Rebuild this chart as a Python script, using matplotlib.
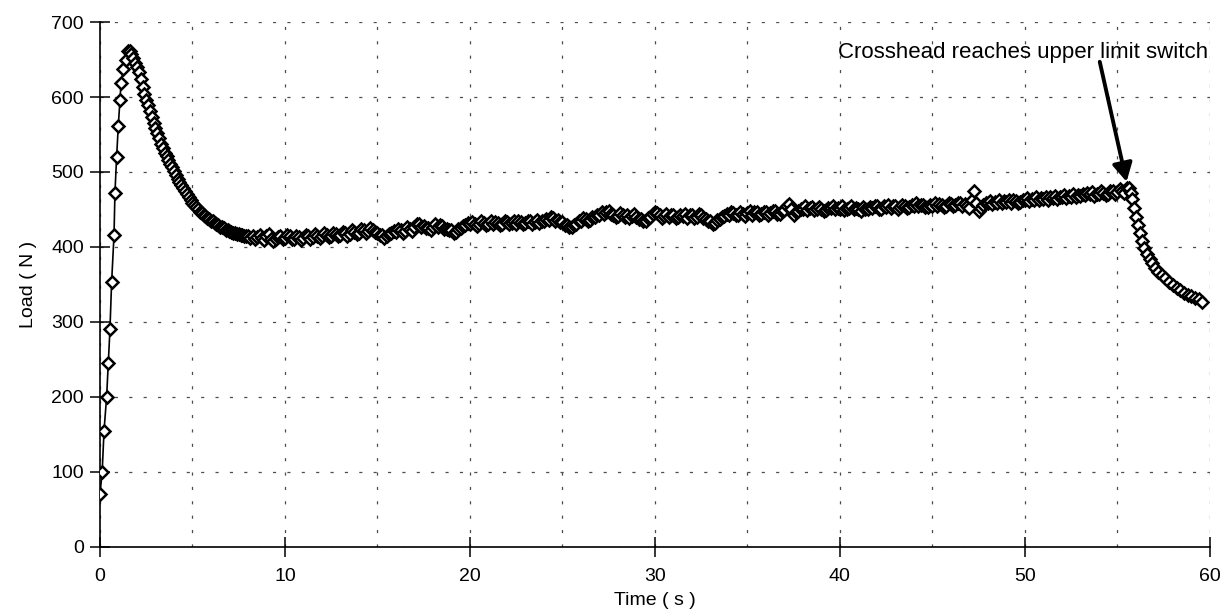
import numpy as np
import matplotlib
matplotlib.use("Agg")
import matplotlib.pyplot as plt
from matplotlib.ticker import MultipleLocator

# loading ramp up to the peak (s, N)
rise_t = [0.00, 0.12, 0.22, 0.36, 0.45, 0.54, 0.63, 0.76, 0.81, 0.90,
          0.99, 1.08, 1.14, 1.26, 1.39, 1.53]
rise_load = [70, 100, 155, 200, 245, 290, 353, 416, 472, 520,
             561, 596, 619, 637, 649, 662]

# relaxation after the peak, sampled every 0.1 s from 1.6 s
decay_t0, decay_dt = 1.6, 0.1
decay_load = [661, 657, 652, 646, 640, 633, 624, 614, 604, 596,
              589, 581, 573, 566, 559, 552, 545, 538, 532, 526,
              521, 516, 511, 506, 501, 496, 491, 487, 482, 478,
              474, 470, 466, 463, 459, 456, 453, 450, 447, 445,
              443, 441, 439, 437, 435, 434, 432, 430, 429, 427,
              426, 425, 423, 422, 421, 420, 419, 418, 417, 417,
              416, 416, 415, 415]

# steady drawing, sampled every 0.125 s from 8.0 s (one row = 2 s)
plateau_t0, plateau_dt = 8.0, 0.125
plateau_load = [
    415, 412, 414, 411, 413, 416, 412, 409, 414, 417, 411, 408, 410, 413, 414, 411,
    412, 416, 414, 410, 411, 415, 413, 409, 412, 416, 414, 411, 413, 417, 415, 412,
    414, 418, 416, 413, 415, 419, 417, 414, 416, 420, 418, 415, 417, 422, 420, 417,
    419, 424, 422, 419, 421, 425, 423, 420, 419, 416, 416, 412, 414, 417, 418, 421,
    420, 424, 422, 419, 421, 426, 424, 421, 426, 430, 431, 426, 428, 425, 425, 422,
    427, 430, 426, 429, 428, 424, 424, 422, 422, 418, 420, 424, 425, 428, 429, 432,
    430, 433, 431, 428, 430, 434, 432, 429, 431, 434, 430, 433, 432, 429, 431, 434,
    433, 430, 432, 435, 431, 434, 433, 430, 432, 435, 434, 431, 433, 436, 432, 435,
    434, 437, 436, 440, 438, 434, 436, 433, 433, 429, 429, 426, 426, 429, 430, 434,
    435, 439, 437, 434, 436, 440, 440, 443, 442, 446, 444, 447, 448, 444, 443, 440,
    441, 445, 443, 440, 442, 439, 441, 444, 440, 437, 437, 434, 434, 438, 440, 444,
    446, 445, 442, 439, 441, 444, 440, 443, 442, 438, 440, 443, 441, 444, 439, 442,
    442, 439, 440, 444, 443, 439, 437, 434, 434, 430, 432, 436, 437, 440, 441, 444,
    443, 447, 445, 442, 442, 446, 444, 441, 445, 448, 443, 446, 446, 442, 444, 447,
    447, 443, 445, 448, 448, 444, 444, 448, 449, 454, 457, 450, 443, 447, 448, 451,
    451, 454, 449, 452, 453, 449, 450, 453, 451, 448, 449, 452, 452, 455, 450, 452,
    451, 454, 449, 451, 452, 455, 450, 452, 451, 448, 453, 450, 450, 453, 452, 455,
    454, 451, 451, 454, 453, 456, 452, 455, 454, 451, 453, 456, 455, 452, 453, 456,
    455, 458, 454, 456, 456, 453, 453, 456, 455, 458, 454, 457, 456, 453, 455, 458,
    457, 454, 456, 459, 458, 455, 457, 454, 452, 462, 474, 458, 448, 452, 456, 459,
    458, 461, 457, 460, 459, 462, 458, 461, 460, 463, 459, 462, 461, 458, 460, 463,
    462, 465, 461, 464, 463, 466, 462, 465, 464, 467, 463, 466, 465, 468, 464, 467,
    466, 469, 465, 468, 467, 470, 466, 469, 468, 471, 469, 472, 470, 473, 468, 471,
    471, 474, 472, 469, 471, 475, 474, 471, 473, 477, 475, 472, 478,
]

# drop once the crosshead hits the limit switch
drop_t = [55.65, 55.75, 55.82, 55.90, 56.00, 56.10, 56.20, 56.32, 56.45,
          56.60, 56.75, 56.90, 57.05, 57.20, 57.40, 57.60, 57.80, 58.00,
          58.20, 58.40, 58.60, 58.80, 59.00, 59.20, 59.40, 59.60]
drop_load = [479, 472, 464, 452, 440, 429, 418, 408, 399,
             391, 384, 378, 372, 367, 362, 358, 353, 349,
             345, 342, 339, 336, 334, 332, 330, 327]

arrow_tip = (55.5, 487)
arrow_tail = (54.05, 647)
note = "Crosshead reaches upper limit switch"

decay_t = decay_t0 + decay_dt * np.arange(len(decay_load))
plateau_t = plateau_t0 + plateau_dt * np.arange(len(plateau_load))
t = np.concatenate([rise_t, decay_t, plateau_t, drop_t])
load = np.concatenate([rise_load, decay_load, plateau_load, drop_load])

plt.rcParams["font.family"] = ["Liberation Sans", "DejaVu Sans"]

fig = plt.figure(figsize=(12.25, 6.13), dpi=100)
ax = fig.add_axes([0.0816, 0.108, 0.906, 0.856])

ax.plot(t, load, color="black", lw=1.2, marker="D", ms=5.8,
        mfc="white", mec="black", mew=1.8, zorder=3)

ax.set_xlim(0, 60)
ax.set_ylim(0, 700)
ax.xaxis.set_major_locator(MultipleLocator(10))
ax.xaxis.set_minor_locator(MultipleLocator(5))
ax.yaxis.set_major_locator(MultipleLocator(100))
ax.grid(True, which="both", linestyle=(0, (2.5, 9)), color="0.3", lw=0.9)
ax.set_axisbelow(True)

for s in ("top", "right"):
    ax.spines[s].set_visible(False)
for s in ("left", "bottom"):
    ax.spines[s].set_linewidth(1.2)
ax.tick_params(which="major", direction="inout", length=15, width=1.1,
               labelsize=14, pad=8)
ax.tick_params(axis="y", which="major", pad=4)
ax.tick_params(which="minor", length=0)

ax.set_xlabel("Time ( s )", fontsize=14, labelpad=5)
ax.set_ylabel("Load ( N )", fontsize=14, labelpad=10)

ax.text(59.9, 659, note, ha="right", va="center", fontsize=16)
ax.annotate("", xy=arrow_tip, xytext=arrow_tail,
            arrowprops=dict(arrowstyle="-|>,head_length=1.1,head_width=0.6",
                            color="black", lw=2.8, shrinkA=0, shrinkB=0),
            zorder=5)

fig.savefig("out.png", dpi=100)
